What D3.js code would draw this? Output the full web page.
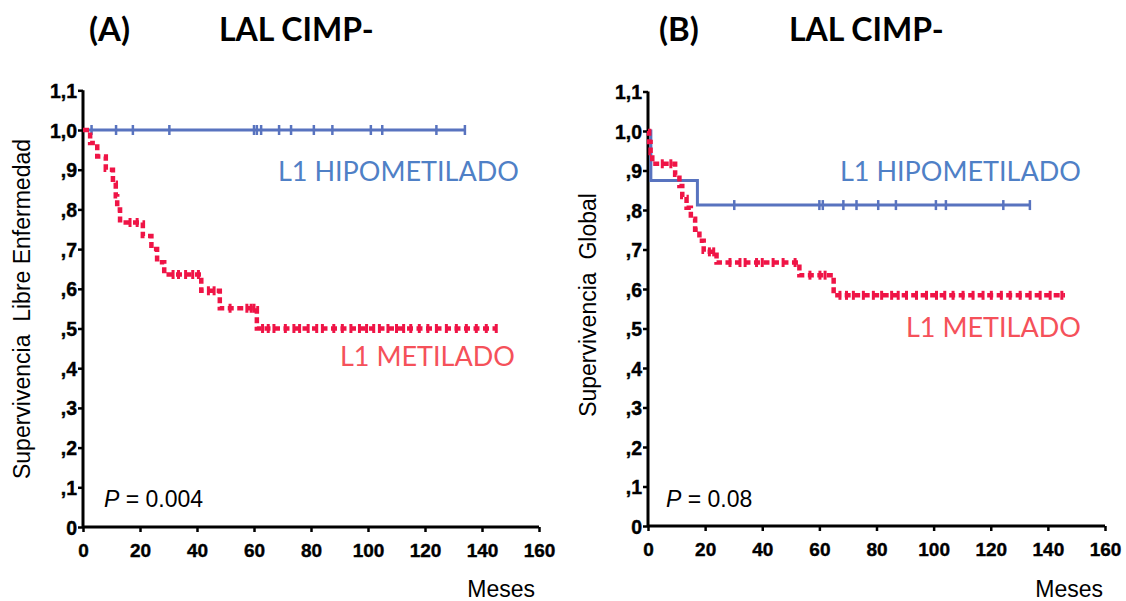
<!DOCTYPE html>
<html><head><meta charset="utf-8">
<script src="https://cdn.jsdelivr.net/npm/d3@7"></script>
<style>
html,body{margin:0;padding:0;background:#fff;}
svg{display:block;}
</style></head>
<body>
<svg id="chart" width="1126" height="601"></svg>
<script>
// ---------- DATA ----------
const xTicks = [0, 20, 40, 60, 80, 100, 120, 140, 160];
const yTicks = [0, 0.1, 0.2, 0.3, 0.4, 0.5, 0.6, 0.7, 0.8, 0.9, 1.0, 1.1];
const yTickLabels = ["0", ",1", ",2", ",3", ",4", ",5", ",6", ",7", ",8", ",9", "1,0", "1,1"];

// Panel A - Supervivencia Libre Enfermedad
const hipoA_eventTimes = [];
const hipoA_survival = [];
const hipoA_end = 134;
const hipoA_censor = [3, 11.6, 17.5, 30.3, 60, 61, 62.5, 68.8, 73, 81, 87.5, 101, 105, 124, 134];

const metA_eventTimes = [2.5, 5, 8, 10.5, 11.5, 12, 13, 21, 24, 26, 28.5, 41.5, 48, 61];
const metA_survival = [0.967, 0.933, 0.90, 0.867, 0.833, 0.80, 0.767, 0.733, 0.70, 0.667, 0.636, 0.595, 0.551, 0.50];
const metA_end = 145;
const metA_censor = [16.5, 19, 31.6, 33.5, 36, 38.5, 40.5, 44, 46, 51.6, 57.5, 59, 60,
  63, 65, 67, 71, 74, 76, 79, 82, 84, 88, 91, 94, 97, 99.5, 102, 104, 107, 110, 112.5, 115, 118, 121, 124, 127.5, 131, 134.5, 138, 141.5, 145];

// Panel B - Supervivencia Global
const hipoB_eventTimes = [1, 17.3];
const hipoB_survival = [0.875, 0.8125];
const hipoB_end = 133.7;
const hipoB_censor = [30.2, 60, 61.2, 68.4, 73, 80.6, 86.8, 100.8, 104.3, 124.4, 133.7];

const metB_eventTimes = [0.4, 0.9, 1.5, 9.5, 11, 12, 13.5, 15, 16.5, 18, 19.5, 24, 53, 65];
const metB_survival = [0.972, 0.944, 0.917, 0.889, 0.861, 0.833, 0.806, 0.778, 0.75, 0.722, 0.694, 0.667, 0.635, 0.584];
const metB_end = 146;
const metB_censor = [5, 8, 21.5, 23, 28.7, 32.2, 34, 38, 40, 43.8, 47.3, 51.5, 56.7, 60.2, 62,
  67.2, 69.5, 71.9, 75.4, 78.9, 81.8, 85.3, 87.6, 90.5, 94, 97.5, 101, 103.9, 106.8, 110.3, 113.8, 117.3, 120.2, 123.7, 126.8, 130.3, 133.8, 137.3, 140.8, 144.9];

const titles = ["(A)", "(B)"];
const subtitle = "LAL CIMP-";
const yLabels = ["Supervivencia  Libre Enfermedad", "Supervivencia  Global"];
const pValues = ["0.004", "0.08"];
const groupHipo = "L1 HIPOMETILADO";
const groupMet = "L1 METILADO";
const xLabel = "Meses";

// ---------- STYLE ----------
const blueLine = "#5873BF";
const blueText = "#4F80C6";
const redMark = "#EF1446";
const redText = "#F5515A";

const svg = d3.select("#chart");

const panels = [
  { ox0: 83, ox1: 539, oy0: 527, oy1: 130,
    hipo: {times: hipoA_eventTimes, surv: hipoA_survival, end: hipoA_end, censor: hipoA_censor},
    met: {times: metA_eventTimes, surv: metA_survival, end: metA_end, censor: metA_censor},
    title: titles[0], titleX: 89, subX: 219, ylab: yLabels[0], ylabX: 30, ylabY: 309,
    p: pValues[0], pX: 104, hipoX: 278, hipoY: 181, metX: 340, metY: 366, mesesX: 535 },
  { ox0: 648, ox1: 1105, oy0: 526, oy1: 131,
    hipo: {times: hipoB_eventTimes, surv: hipoB_survival, end: hipoB_end, censor: hipoB_censor},
    met: {times: metB_eventTimes, surv: metB_survival, end: metB_end, censor: metB_censor},
    title: titles[1], titleX: 659, subX: 789, ylab: yLabels[1], ylabX: 596, ylabY: 305,
    p: pValues[1], pX: 666, hipoX: 840, hipoY: 181, metX: 906, metY: 337, mesesX: 1103 }
];

function survAt(s, t) {
  let v = 1;
  for (let i = 0; i < s.times.length; i++) if (s.times[i] <= t) v = s.surv[i];
  return v;
}
function stepPoints(s) {
  const pts = [[0, 1]];
  s.times.forEach((t, i) => pts.push([t, s.surv[i]]));
  pts.push([s.end, s.surv.length ? s.surv[s.surv.length - 1] : 1]);
  return pts;
}

panels.forEach(p => {
  const x = d3.scaleLinear().domain([0, 160]).range([p.ox0, p.ox1]);
  const y = d3.scaleLinear().domain([0, 1]).range([p.oy0, p.oy1]);
  const g = svg.append("g");

  // titles
  g.append("text").attr("x", p.titleX).attr("y", 41).text(p.title)
    .attr("font-family", "Lato").attr("font-weight", 700).attr("font-size", 33).attr("fill", "#000");
  g.append("text").attr("x", p.subX).attr("y", 41).text(subtitle)
    .attr("font-family", "Lato").attr("font-weight", 700).attr("font-size", 32).attr("fill", "#000");

  // axes
  const yAxis = d3.axisLeft(y).tickValues(yTicks).tickSize(5)
    .tickFormat((d, i) => yTickLabels[i]);
  const ya = g.append("g").attr("transform", `translate(${p.ox0},0)`).call(yAxis);
  ya.select(".domain").attr("d", `M0,${y(0)}V${y(1.1)}`).attr("stroke", "#000").attr("stroke-width", 3);
  ya.selectAll(".tick line").attr("stroke", "#000").attr("stroke-width", 2.5);
  ya.selectAll(".tick text").attr("font-family", "Liberation Sans Narrow, Liberation Sans, Arial")
    .attr("font-weight", 700).attr("font-size", 19.5).attr("fill", "#000").attr("x", -6).attr("dy", "0.36em")
    .attr("stroke", "#000").attr("stroke-width", 0.4);

  const xAxis = d3.axisBottom(x).tickValues(xTicks).tickSize(5).tickFormat(d3.format("d"));
  const xa = g.append("g").attr("transform", `translate(0,${p.oy0})`).call(xAxis);
  xa.select(".domain").attr("d", `M${x(0)},0H${x(160)}`).attr("stroke", "#000").attr("stroke-width", 3);
  xa.selectAll(".tick line").attr("stroke", "#000").attr("stroke-width", 2.5);
  xa.selectAll(".tick text").attr("font-family", "Liberation Sans Narrow, Liberation Sans, Arial")
    .attr("font-weight", 700).attr("font-size", 19).attr("fill", "#000").attr("y", 17).attr("dy", "0.71em")
    .attr("stroke", "#000").attr("stroke-width", 0.4);

  const line = d3.line().x(d => x(d[0])).y(d => y(d[1])).curve(d3.curveStepAfter);

  // hipometilado (solid blue)
  g.append("path").datum(stepPoints(p.hipo)).attr("d", line)
    .attr("fill", "none").attr("stroke", blueLine).attr("stroke-width", 3);
  g.selectAll(".cb").data(p.hipo.censor).enter().append("line")
    .attr("x1", d => x(d)).attr("x2", d => x(d))
    .attr("y1", d => y(survAt(p.hipo, d)) - 5).attr("y2", d => y(survAt(p.hipo, d)) + 5)
    .attr("stroke", blueLine).attr("stroke-width", 2.5);

  // metilado (dashed red)
  g.append("path").datum(stepPoints(p.met)).attr("d", line)
    .attr("fill", "none").attr("stroke", redMark).attr("stroke-width", 4.5)
    .attr("stroke-dasharray", "6,3.5");
  g.selectAll(".cr").data(p.met.censor).enter().append("line")
    .attr("x1", d => x(d)).attr("x2", d => x(d))
    .attr("y1", d => y(survAt(p.met, d)) - 4.5).attr("y2", d => y(survAt(p.met, d)) + 4.5)
    .attr("stroke", redMark).attr("stroke-width", 3);

  // y label
  g.append("text").attr("transform", `translate(${p.ylabX},${p.ylabY}) rotate(-90)`)
    .attr("text-anchor", "middle").attr("font-family", "Liberation Sans, Arial")
    .attr("font-size", 23).attr("fill", "#000").style("white-space", "pre").text(p.ylab);

  // group labels
  g.append("text").attr("x", p.hipoX).attr("y", p.hipoY).text(groupHipo)
    .attr("font-family", "Lato").attr("font-size", 27).attr("fill", blueText);
  g.append("text").attr("x", p.metX).attr("y", p.metY).text(groupMet)
    .attr("font-family", "Lato").attr("font-size", 27).attr("fill", redText);

  // p value
  const pt = g.append("text").attr("x", p.pX).attr("y", 507)
    .attr("font-family", "Liberation Sans, Arial").attr("font-size", 23).attr("fill", "#000");
  pt.append("tspan").attr("font-style", "italic").text("P");
  pt.append("tspan").text(" = " + p.p);

  // x label
  g.append("text").attr("x", p.mesesX).attr("y", 597).attr("text-anchor", "end")
    .attr("font-family", "Liberation Sans, Arial").attr("font-size", 23).attr("fill", "#000").text(xLabel);
});
</script>
</body></html>
